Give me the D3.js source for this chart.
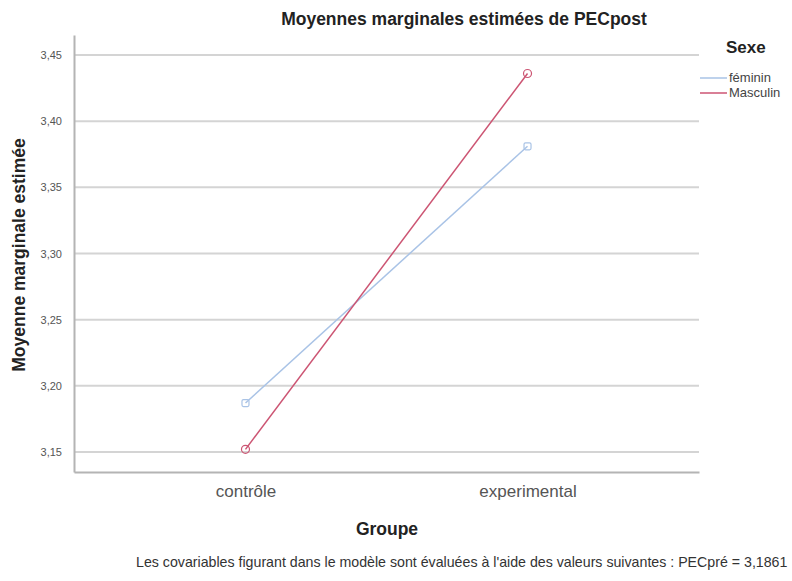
<!DOCTYPE html>
<html>
<head>
<meta charset="utf-8">
<script src="https://cdn.jsdelivr.net/npm/d3@7"></script>
<style>
  body { margin: 0; background: #fff; }
  text { font-family: "Liberation Sans", Arial, sans-serif; }
</style>
</head>
<body>
<svg width="792" height="581"></svg>
<script>
var groupes = ["contrôle", "experimental"];
var sexes = ["féminin", "Masculin"];
var feminin = [3.187, 3.381];
var masculin = [3.152, 3.436];
var yTicks = [3.15, 3.20, 3.25, 3.30, 3.35, 3.40, 3.45];
var couleurs = ["#a9c3e6", "#cc5573"];

var svg = d3.select("svg");
var margin = {top: 35, right: 93, bottom: 109, left: 74};
var width = 792 - margin.left - margin.right,
    height = 581 - margin.top - margin.bottom;

var x = d3.scalePoint().domain(groupes).range([0, width]).padding(0.608);
var y = d3.scaleLinear().domain([3.1349, 3.4651]).range([height, 0]);

var g = svg.append("g")
    .attr("transform", "translate(" + margin.left + "," + margin.top + ")");

// gridlines
g.append("g")
    .selectAll("line")
    .data(yTicks)
    .enter().append("line")
    .attr("x1", 0)
    .attr("x2", width)
    .attr("y1", function(d) { return y(d); })
    .attr("y2", function(d) { return y(d); })
    .attr("stroke", "#d4d4d4")
    .attr("stroke-width", 2);

var yAxis = d3.axisLeft(y).tickValues(yTicks).tickSize(0).tickPadding(12)
    .tickFormat(function(d) { return d3.format(".2f")(d).replace(".", ","); });

var ya = g.append("g").call(yAxis);
ya.select(".domain").attr("stroke", "#b4b4b4").attr("stroke-width", 2);
ya.selectAll("text").attr("fill", "#555").style("font-size", "11px");

var xAxis = d3.axisBottom(x).tickSize(0).tickPadding(13);
var xa = g.append("g").attr("transform", "translate(0," + height + ")").call(xAxis);
xa.select(".domain").attr("stroke", "#b4b4b4").attr("stroke-width", 2);
xa.selectAll("text").attr("fill", "#555").style("font-size", "17px");

var series = [feminin, masculin];
var line = d3.line()
    .x(function(d, i) { return x(groupes[i]); })
    .y(function(d) { return y(d); });

series.forEach(function(s, k) {
  g.append("path")
      .datum(s)
      .attr("fill", "none")
      .attr("stroke", couleurs[k])
      .attr("stroke-width", 1.5)
      .attr("d", line);

  if (k == 0) {
    g.selectAll(".pf")
        .data(s)
        .enter().append("rect")
        .attr("x", function(d, i) { return x(groupes[i]) - 3.5; })
        .attr("y", function(d) { return y(d) - 3.5; })
        .attr("width", 7)
        .attr("height", 7)
        .attr("rx", 1.5)
        .attr("fill", "none")
        .attr("stroke", couleurs[k])
        .attr("stroke-width", 1.2);
  } else {
    g.selectAll(".pm")
        .data(s)
        .enter().append("circle")
        .attr("cx", function(d, i) { return x(groupes[i]); })
        .attr("cy", function(d) { return y(d); })
        .attr("r", 4)
        .attr("fill", "none")
        .attr("stroke", couleurs[k])
        .attr("stroke-width", 1.2);
  }
});

// titles
svg.append("text")
    .attr("x", 464).attr("y", 25)
    .attr("text-anchor", "middle")
    .style("font-size", "17.5px").style("font-weight", "bold")
    .attr("fill", "#222")
    .text("Moyennes marginales estimées de PECpost");

svg.append("text")
    .attr("transform", "translate(25," + 255 + ") rotate(-90)")
    .attr("text-anchor", "middle")
    .style("font-size", "17.5px").style("font-weight", "bold")
    .attr("fill", "#222")
    .text("Moyenne marginale estimée");

svg.append("text")
    .attr("x", 387).attr("y", 535)
    .attr("text-anchor", "middle")
    .style("font-size", "17.5px").style("font-weight", "bold")
    .attr("fill", "#222")
    .text("Groupe");

svg.append("text")
    .attr("x", 136).attr("y", 567)
    .style("font-size", "14.2px")
    .attr("fill", "#333")
    .text("Les covariables figurant dans le modèle sont évaluées à l'aide des valeurs suivantes : PECpré = 3,1861");

// legend
var legend = svg.append("g").attr("transform", "translate(700,0)");
legend.append("text")
    .attr("x", 26).attr("y", 53)
    .style("font-size", "17px").style("font-weight", "bold")
    .attr("fill", "#222")
    .text("Sexe");

sexes.forEach(function(s, k) {
  legend.append("line")
      .attr("x1", 0).attr("x2", 27)
      .attr("y1", 78 + k * 15).attr("y2", 78 + k * 15)
      .attr("stroke", couleurs[k]).attr("stroke-width", 1.5);
  legend.append("text")
      .attr("x", 29).attr("y", 82 + k * 15)
      .style("font-size", "13px")
      .attr("fill", "#444")
      .text(s);
});
</script>
</body>
</html>
